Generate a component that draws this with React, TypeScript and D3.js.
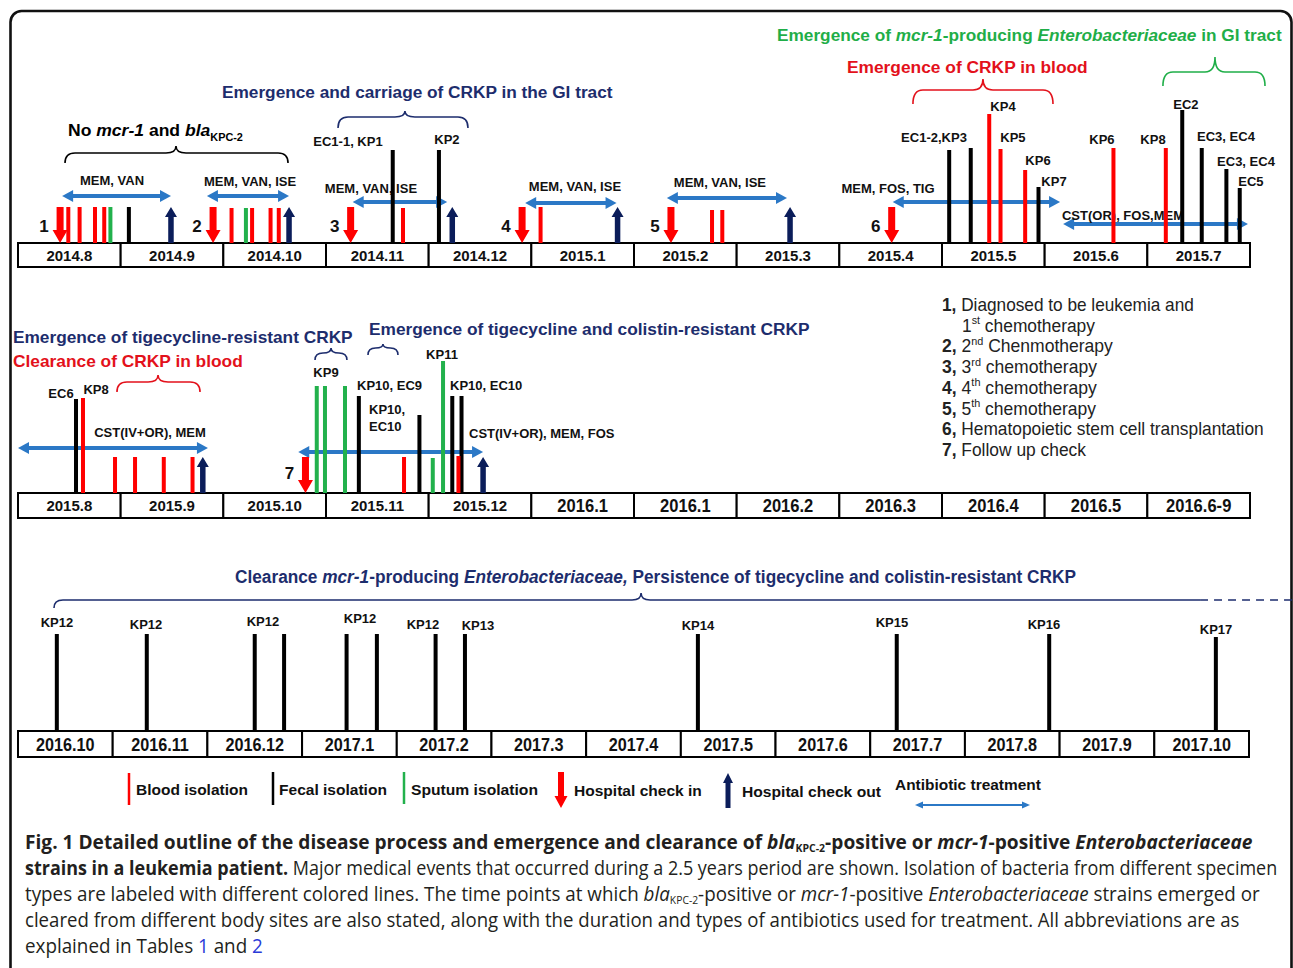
import React, { useLayoutEffect, useRef, useState } from "react";
import * as d3 from "d3";

type Kind = "blood" | "fecal" | "sputum";
type Seg = [string, string];

// ---------------- timeline months ----------------
const row1Months = ["2014.8", "2014.9", "2014.10", "2014.11", "2014.12", "2015.1", "2015.2", "2015.3", "2015.4", "2015.5", "2015.6", "2015.7"];
const row2Months = ["2015.8", "2015.9", "2015.10", "2015.11", "2015.12", "2016.1", "2016.1", "2016.2", "2016.3", "2016.4", "2016.5", "2016.6-9"];
const row3Months = ["2016.10", "2016.11", "2016.12", "2017.1", "2017.2", "2017.3", "2017.4", "2017.5", "2017.6", "2017.7", "2017.8", "2017.9", "2017.10"];

// ---------------- isolations: [month position, level, specimen] ----------------
const row1Isolates: [number, number, Kind][] = [
  [0.49, 36, "blood"], [0.6, 36, "blood"], [0.75, 36, "blood"], [0.84, 36, "blood"], [0.9, 36, "sputum"], [1.08, 36, "fecal"],
  [2.08, 35, "blood"], [2.22, 35, "sputum"], [2.28, 35, "blood"], [2.46, 35, "blood"], [2.54, 35, "blood"],
  [3.65, 93, "fecal"], [3.75, 35, "blood"], [4.1, 93, "fecal"],
  [5.09, 36, "blood"],
  [6.76, 33, "blood"], [6.86, 33, "blood"],
  [9.07, 93, "fecal"], [9.28, 95, "fecal"], [9.46, 129, "blood"], [9.57, 94, "blood"], [9.81, 73, "blood"], [9.94, 56, "fecal"],
  [10.67, 95, "blood"], [11.18, 95, "blood"], [11.34, 133, "fecal"], [11.53, 95, "fecal"], [11.77, 74, "fecal"], [11.9, 55, "fecal"],
];
const row2Isolates: [number, number, Kind][] = [
  [0.565, 94, "fecal"], [0.633, 95, "blood"],
  [0.945, 36, "blood"], [1.14, 36, "blood"], [1.42, 36, "blood"], [1.7, 36, "blood"],
  [2.91, 107, "sputum"], [2.99, 107, "sputum"], [3.185, 107, "sputum"],
  [3.32, 97, "fecal"], [3.76, 36, "blood"], [3.91, 78, "fecal"], [4.04, 35, "sputum"], [4.14, 132, "sputum"],
  [4.23, 97, "fecal"], [4.32, 97, "fecal"], [4.29, 37, "blood"],
];
const row3Isolates: [number, number, Kind][] = [
  [0.41, 97, "fecal"], [1.36, 97, "fecal"], [2.5, 97, "fecal"], [2.81, 97, "fecal"], [3.47, 97, "fecal"], [3.79, 97, "fecal"],
  [4.41, 97, "fecal"], [4.72, 97, "fecal"], [7.18, 97, "fecal"], [9.28, 97, "fecal"], [10.89, 97, "fecal"], [12.65, 94, "fecal"],
];

// ---------------- hospital check in / out ----------------
const row1CheckIn: [number, string][] = [[0.41, "1"], [1.9, "2"], [3.24, "3"], [4.91, "4"], [6.36, "5"], [8.51, "6"]];
const row1CheckOut = [1.49, 2.64, 4.23, 5.84, 7.52];
const row2CheckIn: [number, string][] = [[2.8, "7"]];
const row2CheckOut = [1.8, 4.53];

// ---------------- antibiotic treatment: [start, end, level, drugs, label pos, label level, anchor] ----------------
const row1Antibiotics: [number, number, number, string, number, number, string][] = [
  [0.43, 1.49, 47, "MEM, VAN", 0.916, 63, "middle"],
  [1.84, 2.64, 47, "MEM, VAN, ISE", 2.26, 62, "middle"],
  [3.26, 4.18, 41, "MEM, VAN, ISE", 3.438, 55, "middle"],
  [4.94, 5.83, 40, "MEM, VAN, ISE", 5.425, 57, "middle"],
  [6.32, 7.49, 45, "MEM, VAN, ISE", 6.837, 61, "middle"],
  [8.52, 10.15, 41, "MEM, FOS, TIG", 8.474, 55, "middle"],
  [10.18, 11.98, 19, "CST(OR), FOS,MEM", 10.763, 28, "middle"],
];
const row2Antibiotics: [number, number, number, string, number, number, string][] = [
  [0.0, 1.85, 45, "CST(IV+OR),  MEM", 1.286, 61, "middle"],
  [2.73, 4.53, 41, "CST(IV+OR), MEM, FOS", 4.393, 60, "start"],
];

// ---------------- strain labels: [pos, level, text, anchor] ----------------
const row1Labels: [number, number, string, string][] = [
  [3.214, 102, "EC1-1, KP1", "middle"], [4.178, 104, "KP2", "middle"], [8.922, 106, "EC1-2,KP3", "middle"],
  [9.594, 137, "KP4", "middle"], [9.691, 106, "KP5", "middle"], [9.935, 83, "KP6", "middle"], [10.091, 62, "KP7", "middle"],
  [10.558, 104, "KP6", "middle"], [11.055, 104, "KP8", "middle"], [11.376, 139, "EC2", "middle"],
  [11.766, 107, "EC3, EC4", "middle"], [11.961, 82, "EC3, EC4", "middle"], [12.009, 62, "EC5", "middle"],
];
const row2Labels: [number, number, string, string][] = [
  [0.419, 100, "EC6", "middle"], [0.76, 104, "KP8", "middle"], [3.0, 121, "KP9", "middle"],
  [3.302, 108, "KP10, EC9", "start"], [3.419, 84, "KP10,", "start"], [3.419, 67, "EC10", "start"],
  [4.13, 139, "KP11", "middle"], [4.208, 108, "KP10, EC10", "start"],
];
const row3Labels: [number, number, string, string][] = [
  [0.412, 109, "KP12", "middle"], [1.352, 107, "KP12", "middle"], [2.587, 110, "KP12", "middle"], [3.612, 113, "KP12", "middle"],
  [4.277, 107, "KP12", "middle"], [4.858, 106, "KP13", "middle"], [7.181, 106, "KP14", "middle"], [9.23, 109, "KP15", "middle"],
  [10.835, 107, "KP16", "middle"], [12.652, 102, "KP17", "middle"],
];

// ---------------- braces: [start, end, tip, end level, line level, tip level, colour] ----------------
const row1Braces: [number, number, number, number, number, number, string][] = [
  [0.458, 2.63, 1.539, 80, 90, 97, "black"],
  [3.117, 4.383, 3.769, 115, 126, 132, "navy"],
  [8.717, 10.081, 9.399, 139, 153, 164, "red"],
  [11.152, 12.146, 11.659, 157, 171, 186, "green"],
];
const row2Braces: [number, number, number, number, number, number, string][] = [
  [0.964, 1.773, 1.364, 101, 111, 118, "red"],
  [2.893, 3.204, 3.049, 133, 140, 145, "navy"],
  [3.409, 3.701, 3.555, 138, 145, 149, "navy"],
];
// [start, tip, solid end, dashed end, end level, line level, tip level]
const row3Brace = [0.38, 6.58, 12.483, 13.47, 123, 131, 138];

// ---------------- headings: [pos, baseline level, width, colour, segments] ----------------
const row1Titles: [number, number, number, string, Seg[]][] = [
  [0.487, 107, 175, "black", [["No ", ""], ["mcr-1", "i"], [" and ", ""], ["bla", "i"], ["KPC-2", "sub"]]],
  [1.987, 145, 391, "navy", [["Emergence and carriage of CRKP in the GI tract", ""]]],
  [8.074, 170, 241, "red", [["Emergence of CRKP in blood", ""]]],
  [7.393, 202, 505, "green", [["Emergence of ", ""], ["mcr-1", "i"], ["-producing ", ""], ["Enterobacteriaceae", "i"], [" in GI tract", ""]]],
];
const row2Titles: [number, number, number, string, Seg[]][] = [
  [-0.049, 150, 340, "navy", [["Emergence of tigecycline-resistant CRKP", ""]]],
  [-0.049, 126, 230, "red", [["Clearance of CRKP in blood", ""]]],
  [3.419, 158, 441, "navy", [["Emergence of tigecycline and colistin-resistant CRKP", ""]]],
];
const row3Titles: [number, number, number, string, Seg[]][] = [
  [2.292, 148, 842, "navy", [["Clearance ", ""], ["mcr-1", "i"], ["-producing ", ""], ["Enterobacteriaceae,", "i"], [" Persistence of tigecycline and colistin-resistant CRKP", ""]]],
];

// ---------------- event notes ----------------
const eventNotes: Seg[][] = [
  [["1,", "b"], [" Diagnosed to be leukemia and", ""]],
  [["1", ""], ["st", "sup"], [" chemotherapy", ""]],
  [["2,", "b"], [" 2", ""], ["nd", "sup"], [" Chenmotherapy", ""]],
  [["3,", "b"], [" 3", ""], ["rd", "sup"], [" chemotherapy", ""]],
  [["4,", "b"], [" 4", ""], ["th", "sup"], [" chemotherapy", ""]],
  [["5,", "b"], [" 5", ""], ["th", "sup"], [" chemotherapy", ""]],
  [["6,", "b"], [" Hematopoietic stem cell transplantation", ""]],
  [["7,", "b"], [" Follow up check", ""]],
];
const eventNoteWidths = [252, 133, 171, 155, 155, 154, 322, 144];

// ---------------- legend ----------------
const legendItems = ["Blood isolation", "Fecal isolation", "Sputum isolation", "Hospital check in", "Hospital check out", "Antibiotic treatment"];

// ---------------- caption ----------------
const captionLines: Seg[][] = [
  [["Fig. 1 Detailed outline of the disease process and emergence and clearance of ", "b"], ["bla", "b i"], ["KPC-2", "b sub"], ["-positive or ", "b"], ["mcr-1", "b i"], ["-positive ", "b"], ["Enterobacteriaceae", "b i"]],
  [["strains in a leukemia patient.", "b"], [" Major medical events that occurred during a 2.5 years period are shown. Isolation of bacteria from different specimen", ""]],
  [["types are labeled with different colored lines. The time points at which ", ""], ["bla", "i"], ["KPC-2", "sub"], ["-positive or ", ""], ["mcr-1", "i"], ["-positive ", ""], ["Enterobacteriaceae", "i"], [" strains emerged or", ""]],
  [["cleared from different body sites are also stated, along with the duration and types of antibiotics used for treatment. All abbreviations are as", ""]],
  [["explained in Tables ", ""], ["1", "blue"], [" and ", ""], ["2", "blue"]],
];
const captionRight = [1253, 1278, 1260, 1240, 263];

// ================= styles / layout =================
const W = 1293;
const H = 968;
const SANS = "'Liberation Sans', Arial, Helvetica, sans-serif";
const NARROW = "'Liberation Sans Narrow', 'Arial Narrow', 'Liberation Sans', Arial, sans-serif";
const CAPTION = "'Open Sans', 'Noto Sans', sans-serif";
const COLORS: Record<string, string> = {
  blood: "#ff0000",
  fecal: "#000000",
  sputum: "#22b14c",
  checkOut: "#0b1d5a",
  blue: "#2b78c6",
  navy: "#1d2d6d",
  red: "#e3111b",
  green: "#1fae48",
  black: "#000000",
};

const rowLayout = [
  { x0: 18, x1: 1250, base: 243, boxH: 24, narrowFrom: 99, narrowFs: 18, narrowSx: 0.92 },
  { x0: 18, x1: 1250, base: 493, boxH: 25, narrowFrom: 5, narrowFs: 18, narrowSx: 0.92 },
  { x0: 18, x1: 1249, base: 731, boxH: 26, narrowFrom: 0, narrowFs: 18, narrowSx: 0.9 },
];

function tspans(segs: Seg[], fs: number, subShift = 0.3, subSize = 0.62) {
  let cur = 0;
  return segs.map(([t, s], i) => {
    const f = s.split(" ");
    const target = f.includes("sub") ? fs * subShift : f.includes("sup") ? -fs * 0.42 : 0;
    const dy = target - cur;
    cur = target;
    return (
      <tspan
        key={i}
        dy={dy !== 0 ? dy : undefined}
        fontStyle={f.includes("i") ? "italic" : undefined}
        fontWeight={f.includes("b") ? "bold" : undefined}
        fontSize={target !== 0 ? fs * (f.includes("sub") ? subSize : 0.62) : undefined}
        fill={f.includes("blue") ? "#2a3ad8" : undefined}
      >
        {t}
      </tspan>
    );
  });
}

// text squeezed horizontally (measured) so that it spans a given width
function FitText({ x, y, width, anchor = "start", children, ...rest }: any) {
  const ref = useRef<SVGTextElement>(null);
  const [s, setS] = useState(1);
  useLayoutEffect(() => {
    if (ref.current) {
      const L = ref.current.getComputedTextLength();
      if (L > 0) setS(width / L);
    }
  }, [width]);
  return (
    <text ref={ref} transform={`translate(${x},${y}) scale(${s},1)`} x={0} y={0} textAnchor={anchor} {...rest}>
      {children}
    </text>
  );
}

function downArrow(x: number, yTop: number, yTip: number, shaft = 7, head = 15, headLen = 13) {
  return `M${x - shaft / 2},${yTop}H${x + shaft / 2}V${yTip - headLen}H${x + head / 2}L${x},${yTip}L${x - head / 2},${yTip - headLen}H${x - shaft / 2}Z`;
}
function upArrow(x: number, yBottom: number, yTip: number, shaft = 5.5, head = 12, headLen = 10) {
  return `M${x - shaft / 2},${yBottom}V${yTip + headLen}H${x - head / 2}L${x},${yTip}L${x + head / 2},${yTip + headLen}H${x + shaft / 2}V${yBottom}Z`;
}
function DoubleArrow({ xa, xb, y, sw = 4, hl = 11, hw = 12 }: { xa: number; xb: number; y: number; sw?: number; hl?: number; hw?: number }) {
  return (
    <g fill={COLORS.blue}>
      <line x1={xa + hl - 1} x2={xb - hl + 1} y1={y} y2={y} stroke={COLORS.blue} strokeWidth={sw} />
      <path d={`M${xa},${y}L${xa + hl},${y - hw / 2}L${xa + hl},${y + hw / 2}Z`} />
      <path d={`M${xb},${y}L${xb - hl},${y - hw / 2}L${xb - hl},${y + hw / 2}Z`} />
    </g>
  );
}
function bracePath(x1: number, x2: number, xm: number, yb: number, yt: number, ytip: number) {
  const r = Math.min(10, (xm - x1) / 2, (x2 - xm) / 2);
  return `M${x1},${yb}Q${x1},${yt} ${x1 + r},${yt}L${xm - r},${yt}Q${xm},${yt} ${xm},${ytip}Q${xm},${yt} ${xm + r},${yt}L${x2 - r},${yt}Q${x2},${yt} ${x2},${yb}`;
}

type RowProps = {
  idx: number;
  months: string[];
  isolates: [number, number, Kind][];
  checkIn: [number, string][];
  checkOut: number[];
  antibiotics: [number, number, number, string, number, number, string][];
  labels: [number, number, string, string][];
  braces: [number, number, number, number, number, number, string][];
  titles: [number, number, number, string, Seg[]][];
};

function TimelineRow({ idx, months, isolates, checkIn, checkOut, antibiotics, labels, braces, titles }: RowProps) {
  const L = rowLayout[idx];
  const x = d3.scaleLinear().domain([0, months.length]).range([L.x0, L.x1]);
  const y = d3.scaleLinear().domain([0, 100]).range([L.base, L.base - 100]);
  const titleFs = idx === 2 ? 19 : 17;
  return (
    <g>
      {/* month cells */}
      {months.map((m, i) => {
        const narrow = i >= L.narrowFrom;
        const cx = (x(i) + x(i + 1)) / 2;
        const cy = L.base + L.boxH / 2 + (narrow ? 6.5 : 5.5);
        return (
          <g key={"m" + i}>
            <rect x={x(i)} y={L.base} width={x(i + 1) - x(i)} height={L.boxH} fill="white" stroke="black" strokeWidth={2} />
            <text
              transform={`translate(${cx},${cy}) scale(${narrow ? L.narrowSx : 1},1)`}
              textAnchor="middle"
              fontFamily={SANS}
              fontWeight="bold"
              fontSize={narrow ? L.narrowFs : 15}
              fill="#111"
            >
              {m}
            </text>
          </g>
        );
      })}
      {/* braces */}
      {braces.map(([a, b, m, le, ll, lt, c], i) => (
        <path key={"b" + i} d={bracePath(x(a), x(b), x(m), y(le), y(ll), y(lt))} fill="none" stroke={COLORS[c]} strokeWidth={1.6} />
      ))}
      {/* titles */}
      {titles.map(([t, lv, w, c, segs], i) => (
        <FitText key={"t" + i} x={x(t)} y={y(lv)} width={w} fontFamily={idx === 2 ? NARROW : SANS} fontWeight="bold" fontSize={titleFs} fill={COLORS[c]}>
          {tspans(segs, titleFs)}
        </FitText>
      ))}
      {/* antibiotic treatment */}
      {antibiotics.map(([s, e, lv, label, lt, ll, anchor], i) => (
        <g key={"a" + i}>
          <DoubleArrow xa={x(s)} xb={x(e)} y={y(lv)} />
          <text x={x(lt)} y={y(ll) + 4.7} textAnchor={anchor as any} fontFamily={SANS} fontWeight="bold" fontSize={13} fill="#111">
            {label}
          </text>
        </g>
      ))}
      {/* isolations */}
      {isolates.map(([t, lv, k], i) => (
        <rect key={"i" + i} x={x(t) - 2} y={y(lv)} width={4} height={y(0) - y(lv)} fill={COLORS[k]} />
      ))}
      {/* strain labels */}
      {labels.map(([t, lv, txt, anchor], i) => (
        <text key={"l" + i} x={x(t)} y={y(lv) + 4.7} textAnchor={anchor as any} fontFamily={SANS} fontWeight="bold" fontSize={13} fill="#111">
          {txt}
        </text>
      ))}
      {/* check in */}
      {checkIn.map(([t, n], i) => (
        <g key={"ci" + i}>
          <path d={downArrow(x(t), y(36), y(0))} fill={COLORS.blood} />
          <text x={x(t) - 16} y={y(idx === 1 ? 21 : 18) + 6.5} textAnchor="middle" fontFamily={SANS} fontWeight="bold" fontSize={17} fill="#111">
            {n}
          </text>
        </g>
      ))}
      {/* check out */}
      {checkOut.map((t, i) => (
        <path key={"co" + i} d={upArrow(x(t), y(0), y(36))} fill={COLORS.checkOut} />
      ))}
    </g>
  );
}

function Row3Brace() {
  const L = rowLayout[2];
  const x = d3.scaleLinear().domain([0, row3Months.length]).range([L.x0, L.x1]);
  const y = d3.scaleLinear().domain([0, 100]).range([L.base, L.base - 100]);
  const [a, m, se, de, le, ll, lt] = row3Brace;
  const r = 9;
  const d = `M${x(a)},${y(le)}Q${x(a)},${y(ll)} ${x(a) + r},${y(ll)}L${x(m) - r},${y(ll)}Q${x(m)},${y(ll)} ${x(m)},${y(lt)}Q${x(m)},${y(ll)} ${x(m) + r},${y(ll)}L${x(se)},${y(ll)}`;
  return (
    <g fill="none" stroke={COLORS.navy} strokeWidth={1.6}>
      <path d={d} />
      <line x1={x(se)} x2={x(de)} y1={y(ll)} y2={y(ll)} strokeDasharray="8,6" />
    </g>
  );
}

function Legend() {
  const symX = [129, 273, 404, 561, 728];
  const textX = [136, 279, 411, 574, 742, 895];
  const textW = [112, 108, 127, 128, 139, 146];
  const textY = [795, 795, 795, 796, 797, 790];
  return (
    <g>
      <line x1={symX[0]} x2={symX[0]} y1={773} y2={805} stroke={COLORS.blood} strokeWidth={2.5} />
      <line x1={symX[1]} x2={symX[1]} y1={772} y2={805} stroke={COLORS.fecal} strokeWidth={2.5} />
      <line x1={symX[2]} x2={symX[2]} y1={772} y2={804} stroke={COLORS.sputum} strokeWidth={2.5} />
      <path d={downArrow(symX[3], 772, 808, 6, 13, 12)} fill={COLORS.blood} />
      <path d={upArrow(symX[4], 808, 773, 5, 10, 10)} fill={COLORS.checkOut} />
      <DoubleArrow xa={915} xb={1030} y={805} sw={2} hl={8} hw={7} />
      {legendItems.map((t, i) => (
        <FitText key={i} x={textX[i]} y={textY[i]} width={textW[i]} fontFamily={SANS} fontWeight="bold" fontSize={15} fill="#111">
          {t}
        </FitText>
      ))}
    </g>
  );
}

function EventNotes() {
  return (
    <g fontFamily={NARROW} fontSize={18} fill="#222">
      {eventNotes.map((segs, i) => {
        const x0 = i === 1 ? 962 : 942;
        return (
          <FitText key={i} x={x0} y={311 + i * 20.7} width={eventNoteWidths[i]}>
            {tspans(segs, 18)}
          </FitText>
        );
      })}
    </g>
  );
}

function Caption() {
  return (
    <g fontFamily={CAPTION} fontSize={20} fill="#231f20">
      {captionLines.map((segs, i) => (
        <FitText key={i} x={25} y={849 + i * 26} width={captionRight[i] - 25}>
          {tspans(segs, 20, 0.16, 0.55)}
        </FitText>
      ))}
    </g>
  );
}

export default function App() {
  return (
    <svg width={W} height={H} viewBox={`0 0 ${W} ${H}`} style={{ position: "fixed", left: 0, top: 0, background: "white" }}>
      <rect x={0} y={0} width={W} height={H} fill="white" />
      <rect x={10.5} y={11} width={1281} height={1000} rx={11} fill="none" stroke="#111" strokeWidth={2.6} />
      <TimelineRow idx={0} months={row1Months} isolates={row1Isolates} checkIn={row1CheckIn} checkOut={row1CheckOut} antibiotics={row1Antibiotics} labels={row1Labels} braces={row1Braces} titles={row1Titles} />
      <TimelineRow idx={1} months={row2Months} isolates={row2Isolates} checkIn={row2CheckIn} checkOut={row2CheckOut} antibiotics={row2Antibiotics} labels={row2Labels} braces={row2Braces} titles={row2Titles} />
      <TimelineRow idx={2} months={row3Months} isolates={row3Isolates} checkIn={[]} checkOut={[]} antibiotics={[]} labels={row3Labels} braces={[]} titles={row3Titles} />
      <Row3Brace />
      <EventNotes />
      <Legend />
      <Caption />
    </svg>
  );
}
